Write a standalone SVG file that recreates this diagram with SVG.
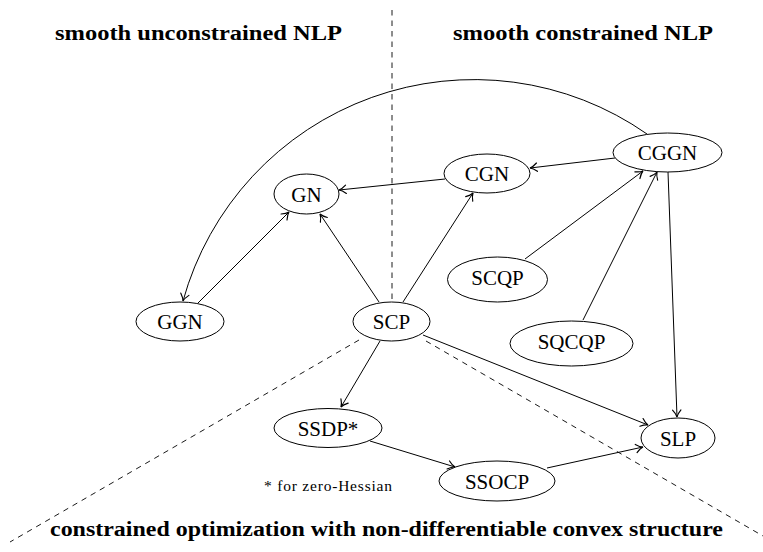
<svg xmlns="http://www.w3.org/2000/svg" width="763" height="552" viewBox="0 0 763 552">
<style>
.bg{fill:#fff}
.node ellipse{fill:#fff;stroke:#000;stroke-width:1}
.node text{font-family:"Liberation Serif","Times New Roman",serif;font-size:21px;fill:#000;text-anchor:middle}
.edge{fill:none;stroke:#000;stroke-width:1;marker-end:url(#arr)}
.sep{fill:none;stroke:#000;stroke-width:0.9;stroke-dasharray:5.5 5}
.head{font-family:"Liberation Serif","Times New Roman",serif;font-weight:bold;font-size:20.5px;fill:#000}
.note{font-family:"Liberation Serif","Times New Roman",serif;font-size:15.5px;fill:#000}
</style>
<defs>
<marker id="arr" markerUnits="userSpaceOnUse" markerWidth="14" markerHeight="14" viewBox="-8 -6 10 12" refX="0" refY="0" orient="auto" overflow="visible">
<path d="M-6,-3.6 Q-2.6,-0.6 0,0 Q-2.6,0.6 -6,3.6" fill="none" stroke="#000" stroke-width="1" stroke-linecap="round"/>
</marker>
</defs>
<rect class="bg" x="0" y="0" width="763" height="552"/>

<g id="separators">
<line class="sep" x1="392" y1="10" x2="392" y2="301"/>
<line class="sep" x1="359" y1="340" x2="10" y2="542"/>
<line class="sep" x1="426" y1="341" x2="763" y2="536"/>
</g>

<g id="headings">
<text class="head" x="55" y="40" textLength="287" lengthAdjust="spacingAndGlyphs">smooth unconstrained NLP</text>
<text class="head" x="453" y="40" textLength="260" lengthAdjust="spacingAndGlyphs">smooth constrained NLP</text>
<text class="head" x="50" y="536" textLength="673" lengthAdjust="spacingAndGlyphs">constrained optimization with non-differentiable convex structure</text>
</g>

<g id="connectors">
<path class="edge" d="M647,134 A302,302 0 0 0 183,301"/>
<path class="edge" d="M445,179 L339,190"/>
<path class="edge" d="M379,302 L320,214"/>
<path class="edge" d="M198,303 L289,212"/>
<path class="edge" d="M403,302 L473,193"/>
<path class="edge" d="M615,158 L530,168"/>
<path class="edge" d="M525,259 L643,171"/>
<path class="edge" d="M583,320 L657,172"/>
<path class="edge" d="M668,172 L677,417"/>
<path class="edge" d="M423,335 L648,425"/>
<path class="edge" d="M380,341 L341,407"/>
<path class="edge" d="M370,441 L455,467"/>
<path class="edge" d="M547,468 L643,447"/>
</g>

<g id="GN" class="node"><ellipse cx="306.5" cy="194" rx="32.5" ry="20"/><text x="306.5" y="201.5">GN</text></g>
<g id="GGN" class="node"><ellipse cx="180" cy="321.5" rx="44" ry="19.5"/><text x="180" y="329">GGN</text></g>
<g id="SCP" class="node"><ellipse cx="391.5" cy="321.5" rx="38.5" ry="19.5"/><text x="391.5" y="329">SCP</text></g>
<g id="CGN" class="node"><ellipse cx="487" cy="173.5" rx="43" ry="19.5"/><text x="487" y="181">CGN</text></g>
<g id="CGGN" class="node"><ellipse cx="667.5" cy="152.5" rx="54.5" ry="19.5"/><text x="667.5" y="160">CGGN</text></g>
<g id="SCQP" class="node"><ellipse cx="497.5" cy="279.5" rx="50" ry="22.5"/><text x="497.5" y="285">SCQP</text></g>
<g id="SQCQP" class="node"><ellipse cx="571.5" cy="343.5" rx="61.5" ry="22.5"/><text x="571.5" y="349">SQCQP</text></g>
<g id="SSDP" class="node"><ellipse cx="328" cy="428" rx="54" ry="19.5"/><text x="328" y="435.5">SSDP*</text></g>
<g id="SSOCP" class="node"><ellipse cx="497" cy="481" rx="58" ry="20"/><text x="497" y="488.5">SSOCP</text></g>
<g id="SLP" class="node"><ellipse cx="678" cy="438" rx="37" ry="20"/><text x="678" y="445.5">SLP</text></g>

<g id="footnote">
<text class="note" x="264" y="491" textLength="128" lengthAdjust="spacing">* for zero-Hessian</text>
</g>
</svg>
